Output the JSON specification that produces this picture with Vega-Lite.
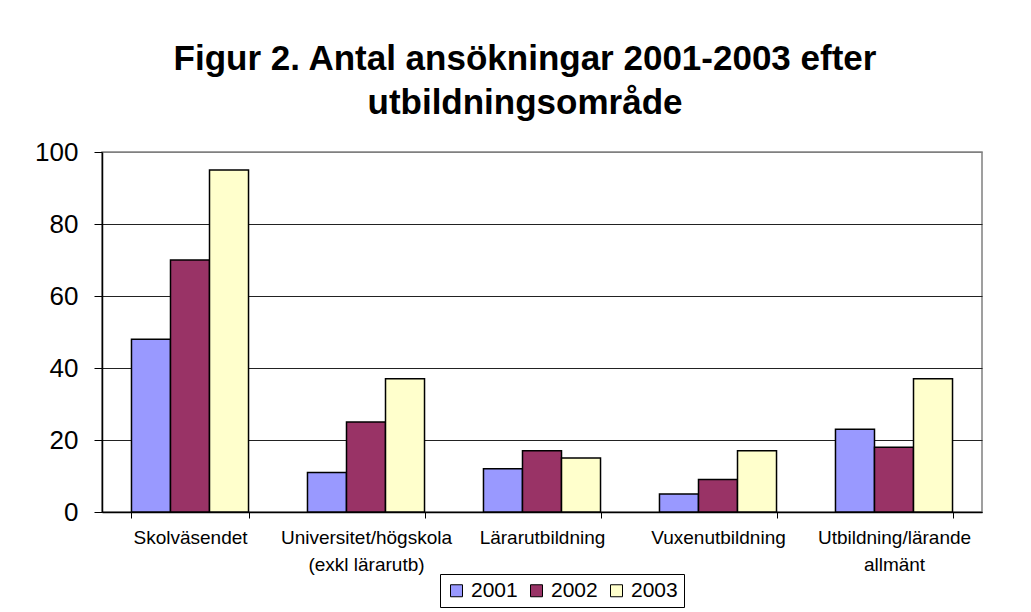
{
  "$schema": "https://vega.github.io/schema/vega-lite/v6.json",
  "width": 880,
  "height": 360,
  "autosize": {"type": "none"},
  "padding": {"left": 102, "top": 152, "right": 49, "bottom": 100},
  "background": "white",
  "title": {
    "text": ["Figur 2. Antal ansökningar 2001-2003 efter", "utbildningsområde"],
    "font": "Liberation Sans",
    "fontSize": 35,
    "fontWeight": "bold",
    "color": "black",
    "anchor": "middle",
    "dx": -17,
    "offset": 18,
    "lineHeight": 44
  },
  "data": {
    "values": [
      {"area": "Skolväsendet", "year": "2001", "count": 48},
      {"area": "Skolväsendet", "year": "2002", "count": 70},
      {"area": "Skolväsendet", "year": "2003", "count": 95},
      {"area": "Universitet/högskola (exkl lärarutb)", "year": "2001", "count": 11},
      {"area": "Universitet/högskola (exkl lärarutb)", "year": "2002", "count": 25},
      {"area": "Universitet/högskola (exkl lärarutb)", "year": "2003", "count": 37},
      {"area": "Lärarutbildning", "year": "2001", "count": 12},
      {"area": "Lärarutbildning", "year": "2002", "count": 17},
      {"area": "Lärarutbildning", "year": "2003", "count": 15},
      {"area": "Vuxenutbildning", "year": "2001", "count": 5},
      {"area": "Vuxenutbildning", "year": "2002", "count": 9},
      {"area": "Vuxenutbildning", "year": "2003", "count": 17},
      {"area": "Utbildning/lärande allmänt", "year": "2001", "count": 23},
      {"area": "Utbildning/lärande allmänt", "year": "2002", "count": 18},
      {"area": "Utbildning/lärande allmänt", "year": "2003", "count": 37}
    ]
  },
  "mark": {"type": "bar", "stroke": "black", "strokeWidth": 1.5},
  "encoding": {
    "x": {
      "field": "area",
      "type": "nominal",
      "sort": ["Skolväsendet", "Universitet/högskola (exkl lärarutb)", "Lärarutbildning", "Vuxenutbildning", "Utbildning/lärande allmänt"],
      "scale": {"paddingInner": 0.335, "paddingOuter": 0.1675},
      "axis": {
        "title": null,
        "labelAngle": 0,
        "tickBand": "extent",
        "tickSize": 6,
        "tickColor": "black",
        "domainColor": "black",
        "domainWidth": 1.5,
        "labelFont": "Liberation Sans",
        "labelFontSize": 19,
        "labelColor": "black",
        "labelPadding": 10,
        "labelLineHeight": 27,
        "labelBaseline": "top",
        "labelExpr": "datum.label == 'Universitet/högskola (exkl lärarutb)' ? ['Universitet/högskola', '(exkl lärarutb)'] : datum.label == 'Utbildning/lärande allmänt' ? ['Utbildning/lärande', 'allmänt'] : datum.label",
        "grid": false
      }
    },
    "xOffset": {"field": "year", "type": "nominal", "sort": ["2001", "2002", "2003"]},
    "y": {
      "field": "count",
      "type": "quantitative",
      "scale": {"domain": [0, 100]},
      "axis": {
        "title": null,
        "values": [0, 20, 40, 60, 80, 100],
        "tickSize": 8,
        "tickColor": "black",
        "domainColor": "black",
        "domainWidth": 1.5,
        "labelPadding": 16,
        "labelFont": "Liberation Sans",
        "labelFontSize": 26,
        "labelColor": "black",
        "grid": true,
        "gridColor": {"condition": {"test": "datum.value === 100", "value": "#808080"}, "value": "#222222"},
        "gridWidth": 1.2
      }
    },
    "color": {
      "field": "year",
      "type": "nominal",
      "scale": {"domain": ["2001", "2002", "2003"], "range": ["#9999FF", "#993366", "#FFFFCC"]},
      "legend": {
        "orient": "none",
        "legendX": 338,
        "legendY": 422,
        "direction": "horizontal",
        "title": null,
        "symbolType": "square",
        "symbolSize": 144,
        "symbolStrokeColor": "black",
        "symbolStrokeWidth": 1,
        "symbolOpacity": 1,
        "labelFont": "Liberation Sans",
        "labelFontSize": 21,
        "labelColor": "black",
        "labelOffset": 4,
        "columnPadding": 8,
        "padding": 6,
        "strokeColor": "black",
        "fillColor": "white"
      }
    }
  },
  "config": {"view": {"stroke": "#808080", "strokeWidth": 1.5}}
}
